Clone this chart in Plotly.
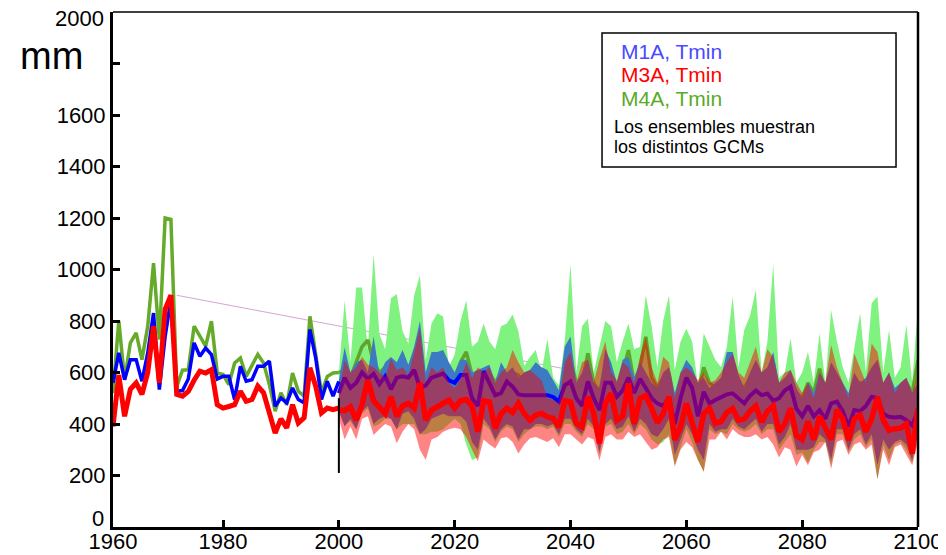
import plotly.graph_objects as go

# historical series (1961-2000)
hist_years = list(range(1961, 2001))
hist_m4a = [520, 800, 572, 715, 754, 650, 780, 1025, 728, 1200, 1195, 545, 609, 611, 780, 741, 702, 799, 598, 592,
            553, 637, 656, 585, 631, 670, 637, 553, 450, 521, 475, 598, 527, 508, 818, 663, 521, 585, 598, 600]
hist_m1a = [560, 676, 572, 650, 650, 566, 676, 831, 534, 740, 883, 527, 530, 575, 715, 663, 695, 670, 575, 585,
            585, 495, 624, 566, 572, 624, 624, 644, 469, 501, 482, 540, 495, 482, 767, 657, 495, 566, 508, 566]
hist_m3a = [390, 590, 430, 535, 560, 515, 600, 780, 560, 845, 900, 515, 508, 527, 570, 605, 598, 611, 475, 462,
            468, 475, 527, 488, 495, 547, 521, 450, 365, 420, 385, 475, 404, 424, 618, 547, 443, 462, 456, 462]

# ensembles (2000-2100)
fut_years = list(range(2000, 2101))

m4a_high = [600, 880, 640, 930, 930, 690, 1060, 750, 690, 888,
            905, 760, 713, 900, 978, 648, 790, 830, 817, 622,
            670, 800, 880, 700, 720, 790, 720, 690, 780, 790,
            825, 760, 625, 660, 687, 600, 730, 580, 550, 720,
            1020, 600, 780, 810, 600, 700, 800, 780, 640, 720,
            790, 690, 700, 900, 780, 620, 800, 900, 610, 720,
            770, 720, 550, 752, 700, 650, 620, 700, 895, 620,
            765, 820, 920, 600, 720, 1020, 580, 600, 733, 560,
            600, 680, 560, 752, 560, 843, 720, 620, 560, 700,
            830, 600, 869, 895, 600, 765, 580, 620, 784, 560, 860]
m4a_low = [450, 400, 410, 380, 440, 460, 390, 400, 420, 420,
           380, 400, 400, 400, 360, 360, 370, 370, 380, 400,
           420, 400, 320, 260, 270, 400, 380, 330, 370, 390,
           380, 330, 360, 380, 390, 390, 380, 390, 350, 400,
           400, 370, 350, 400, 380, 280, 390, 400, 360, 370,
           400, 360, 400, 380, 340, 320, 330, 360, 240, 310,
           380, 330, 260, 215, 380, 360, 370, 360, 400, 380,
           370, 380, 400, 360, 380, 380, 300, 330, 360, 280,
           290, 250, 300, 330, 330, 240, 360, 360, 290, 340,
           360, 310, 340, 185, 320, 260, 320, 330, 300, 250, 360]
m4a_mean = [600, 610, 580, 640, 700, 726, 640, 600, 620, 600,
            610, 620, 600, 640, 650, 560, 600, 610, 620, 600,
            580, 640, 680, 590, 560, 600, 600, 560, 600, 590,
            600, 590, 560, 560, 580, 560, 560, 530, 510, 600,
            650, 560, 560, 674, 560, 520, 620, 600, 540, 600,
            687, 560, 620, 739, 580, 540, 580, 600, 480, 560,
            600, 560, 520, 620, 560, 540, 560, 620, 640, 560,
            540, 580, 620, 560, 600, 640, 520, 560, 580, 520,
            500, 560, 520, 615, 520, 600, 580, 540, 480, 560,
            560, 540, 600, 620, 520, 560, 500, 520, 560, 520, 648]

m1a_high = [570, 697, 600, 640, 650, 600, 740, 590, 640, 660,
            640, 687, 630, 700, 800, 600, 680, 680, 687, 640,
            600, 650, 650, 600, 610, 620, 630, 560, 640, 600,
            620, 580, 600, 610, 640, 620, 610, 570, 530, 700,
            740, 560, 600, 650, 560, 540, 690, 640, 560, 650,
            660, 580, 640, 600, 560, 540, 600, 620, 520, 600,
            650, 620, 560, 580, 540, 560, 580, 680, 680, 590,
            540, 600, 650, 600, 620, 680, 560, 580, 610, 540,
            500, 560, 520, 600, 560, 640, 600, 560, 520, 600,
            560, 580, 620, 650, 560, 600, 540, 560, 580, 520, 560]
m1a_low = [450, 390, 420, 380, 450, 470, 400, 420, 430, 420,
           380, 440, 450, 420, 360, 380, 420, 430, 440, 430,
           430, 430, 410, 330, 300, 420, 390, 340, 380, 400,
           390, 340, 380, 380, 400, 400, 390, 400, 360, 420,
           420, 380, 360, 420, 390, 290, 400, 420, 380, 390,
           430, 370, 420, 400, 360, 350, 380, 420, 280, 340,
           400, 360, 300, 260, 400, 370, 380, 380, 420, 390,
           380, 400, 420, 370, 400, 400, 320, 350, 400, 300,
           300, 300, 310, 360, 340, 260, 380, 380, 300, 360,
           380, 320, 360, 240, 340, 300, 330, 340, 320, 260, 380]
m1a_mean = [520, 580, 540, 560, 600, 575, 595, 555, 585, 535,
            580, 585, 580, 610, 540, 550, 580, 590, 596, 570,
            560, 590, 590, 500, 470, 605, 560, 512, 520, 565,
            545, 515, 512, 512, 512, 512, 512, 505, 487, 550,
            565, 500, 470, 565, 500, 454, 560, 560, 506, 530,
            580, 520, 575, 540, 500, 480, 470, 500, 400, 500,
            580, 540, 430, 525, 480, 493, 505, 515, 519, 500,
            480, 510, 530, 512, 518, 490, 500, 530, 545, 460,
            430, 470, 430, 454, 420, 480, 487, 450, 390, 454,
            450, 470, 506, 500, 440, 428, 425, 428, 415, 395, 450]

m3a_high = [520, 648, 600, 620, 661, 630, 620, 600, 580, 654,
            610, 620, 590, 680, 772, 560, 620, 600, 620, 560,
            540, 575, 640, 580, 620, 600, 620, 560, 600, 620,
            687, 640, 600, 610, 590, 570, 500, 495, 480, 640,
            680, 560, 640, 650, 560, 650, 720, 600, 570, 640,
            620, 560, 660, 739, 620, 560, 661, 640, 500, 600,
            620, 600, 570, 600, 560, 570, 600, 640, 674, 600,
            580, 640, 700, 600, 690, 660, 560, 600, 610, 560,
            520, 560, 500, 600, 560, 707, 620, 560, 500, 674,
            620, 560, 713, 680, 560, 600, 520, 560, 580, 520, 600]
m3a_low = [420, 340, 390, 340, 420, 430, 357, 380, 400, 390,
           325, 370, 400, 380, 300, 260, 340, 350, 370, 380,
           385, 380, 350, 300, 255, 340, 320, 305, 345, 350,
           330, 285, 320, 345, 350, 340, 330, 345, 310, 360,
           360, 340, 320, 350, 340, 258, 350, 360, 340, 340,
           370, 350, 360, 330, 300, 310, 340, 350, 235, 300,
           330, 310, 260, 215, 340, 340, 370, 340, 380, 360,
           350, 350, 360, 340, 350, 320, 270, 310, 300, 235,
           280, 240, 290, 300, 330, 225, 330, 340, 280, 320,
           330, 300, 320, 185, 300, 240, 310, 320, 280, 240, 330]
m3a_mean = [454, 452, 467, 415, 475, 571, 490, 465, 440, 506,
            430, 470, 480, 462, 560, 415, 454, 467, 480, 493,
            462, 490, 495, 470, 370, 490, 485, 383, 440, 461,
            445, 480, 440, 415, 435, 441, 428, 422, 389, 490,
            485, 402, 389, 506, 440, 325, 480, 519, 415, 430,
            558, 400, 499, 510, 461, 405, 440, 506, 338, 389,
            480, 408, 330, 440, 460, 402, 410, 445, 460, 415,
            420, 450, 470, 408, 450, 470, 370, 400, 461, 355,
            340, 410, 338, 430, 380, 340, 455, 420, 338, 420,
            435, 370, 420, 505, 415, 376, 382, 384, 400, 285, 460]

trend_years = [1972, 2040, 2066]
trend_vals = [900, 610, 505]
mark_years = [2000, 2000]
mark_vals = [210, 500]

FONT = "Liberation Sans, Arial, sans-serif"


def band(years, hi, lo, color):
    return go.Scatter(x=years + years[::-1], y=hi + lo[::-1], fill="toself", fillcolor=color,
                      mode="lines", line=dict(width=0), hoverinfo="skip", showlegend=False)


def line(years, vals, color, width):
    return go.Scatter(x=years, y=vals, mode="lines", line=dict(color=color, width=width),
                      hoverinfo="skip", showlegend=False)


fig = go.Figure()
fig.add_trace(line(trend_years, trend_vals, "rgba(205,140,205,0.8)", 1))
fig.add_trace(band(fut_years, m4a_high, m4a_low, "rgb(128,242,128)"))
fig.add_trace(line(fut_years, m4a_mean, "#5fa52a", 3.5))
fig.add_trace(band(fut_years, m1a_high, m1a_low, "rgb(60,122,196)"))
fig.add_trace(line(fut_years, m1a_mean, "#0000ff", 4))
fig.add_trace(band(fut_years, m3a_high, m3a_low, "rgba(255,0,0,0.48)"))
fig.add_trace(line(fut_years, m3a_mean, "#ff0000", 5.5))

fig.add_trace(line(hist_years, hist_m4a, "#66aa2a", 3.5))
fig.add_trace(line(hist_years, hist_m1a, "#0000ff", 3.5))
fig.add_trace(line(hist_years, hist_m3a, "#ff0000", 5))
fig.add_trace(line(mark_years, mark_vals, "black", 2))

xt = [1961, 1980, 2000, 2020, 2040, 2060, 2080, 2100]
xl = ["1960", "1980", "2000", "2020", "2040", "2060", "2080", "2100"]
yt = list(range(0, 2001, 200))
yl = ["" if v in (0, 1800, 2000) else str(v) for v in yt]

# the page body adds an 8px offset, so the figure is a little smaller than the window
fig.update_layout(
    template="none",
    width=938, height=547,
    margin=dict(l=105, r=28, t=4, b=28),
    paper_bgcolor="white", plot_bgcolor="white",
    font=dict(family=FONT, size=22, color="black"),
    xaxis=dict(range=[1961, 2100], tickvals=xt, ticktext=xl, showgrid=False, zeroline=False,
               showline=True, linecolor="black", linewidth=3, ticks="inside", ticklen=7,
               tickwidth=2.5, tickcolor="black", automargin=False, ticklabeloverflow="allow",
               ticklabelstandoff=-7),
    yaxis=dict(range=[0, 2000], tickvals=yt, ticktext=yl, showgrid=False, zeroline=False,
               showline=True, linecolor="black", linewidth=3, ticks="inside", ticklen=7,
               tickwidth=2.5, tickcolor="black", automargin=False, ticklabeloverflow="allow"),
)

# frame: thin top, thicker right
fig.add_shape(type="line", xref="paper", yref="paper", x0=0, x1=1, y0=1, y1=1,
              line=dict(color="black", width=1.5))
fig.add_shape(type="line", xref="paper", yref="paper", x0=1, x1=1, y0=0, y1=1,
              line=dict(color="black", width=2.5))

# end labels nudged inward so they stay on the page
fig.add_annotation(text="0", xref="paper", yref="paper", x=-0.009, y=0.016, xanchor="right",
                   yanchor="middle", showarrow=False, font=dict(family=FONT, size=22, color="black"))
fig.add_annotation(text="2000", xref="paper", yref="paper", x=-0.009, y=0.988, xanchor="right",
                   yanchor="middle", showarrow=False, font=dict(family=FONT, size=22, color="black"))

# legend box
fig.add_shape(type="rect", xref="paper", yref="paper", x0=0.6075, x1=0.9727, y0=0.699, y1=0.959,
              line=dict(color="black", width=1.5), fillcolor="white")
legend_rows = [("M1A, Tmin", "#4a4aff", 0.924), ("M3A, Tmin", "#ff0000", 0.878),
               ("M4A, Tmin", "#5aaa2a", 0.833)]
for txt, col, yy in legend_rows:
    fig.add_annotation(text=txt, xref="paper", yref="paper", x=0.629, y=yy, xanchor="left",
                       yanchor="middle", showarrow=False, font=dict(family=FONT, size=21, color=col))
fig.add_annotation(text="Los ensembles muestran", xref="paper", yref="paper", x=0.620, y=0.777,
                   xanchor="left", yanchor="middle", showarrow=False,
                   font=dict(family=FONT, size=18, color="black"))
fig.add_annotation(text="los distintos GCMs", xref="paper", yref="paper", x=0.620, y=0.738,
                   xanchor="left", yanchor="middle", showarrow=False,
                   font=dict(family=FONT, size=18, color="black"))

fig.add_annotation(text="mm", xref="paper", yref="paper", x=-0.076, y=0.915, xanchor="center",
                   yanchor="middle", showarrow=False, font=dict(family=FONT, size=38, color="black"))

fig.write_html("out.html")
